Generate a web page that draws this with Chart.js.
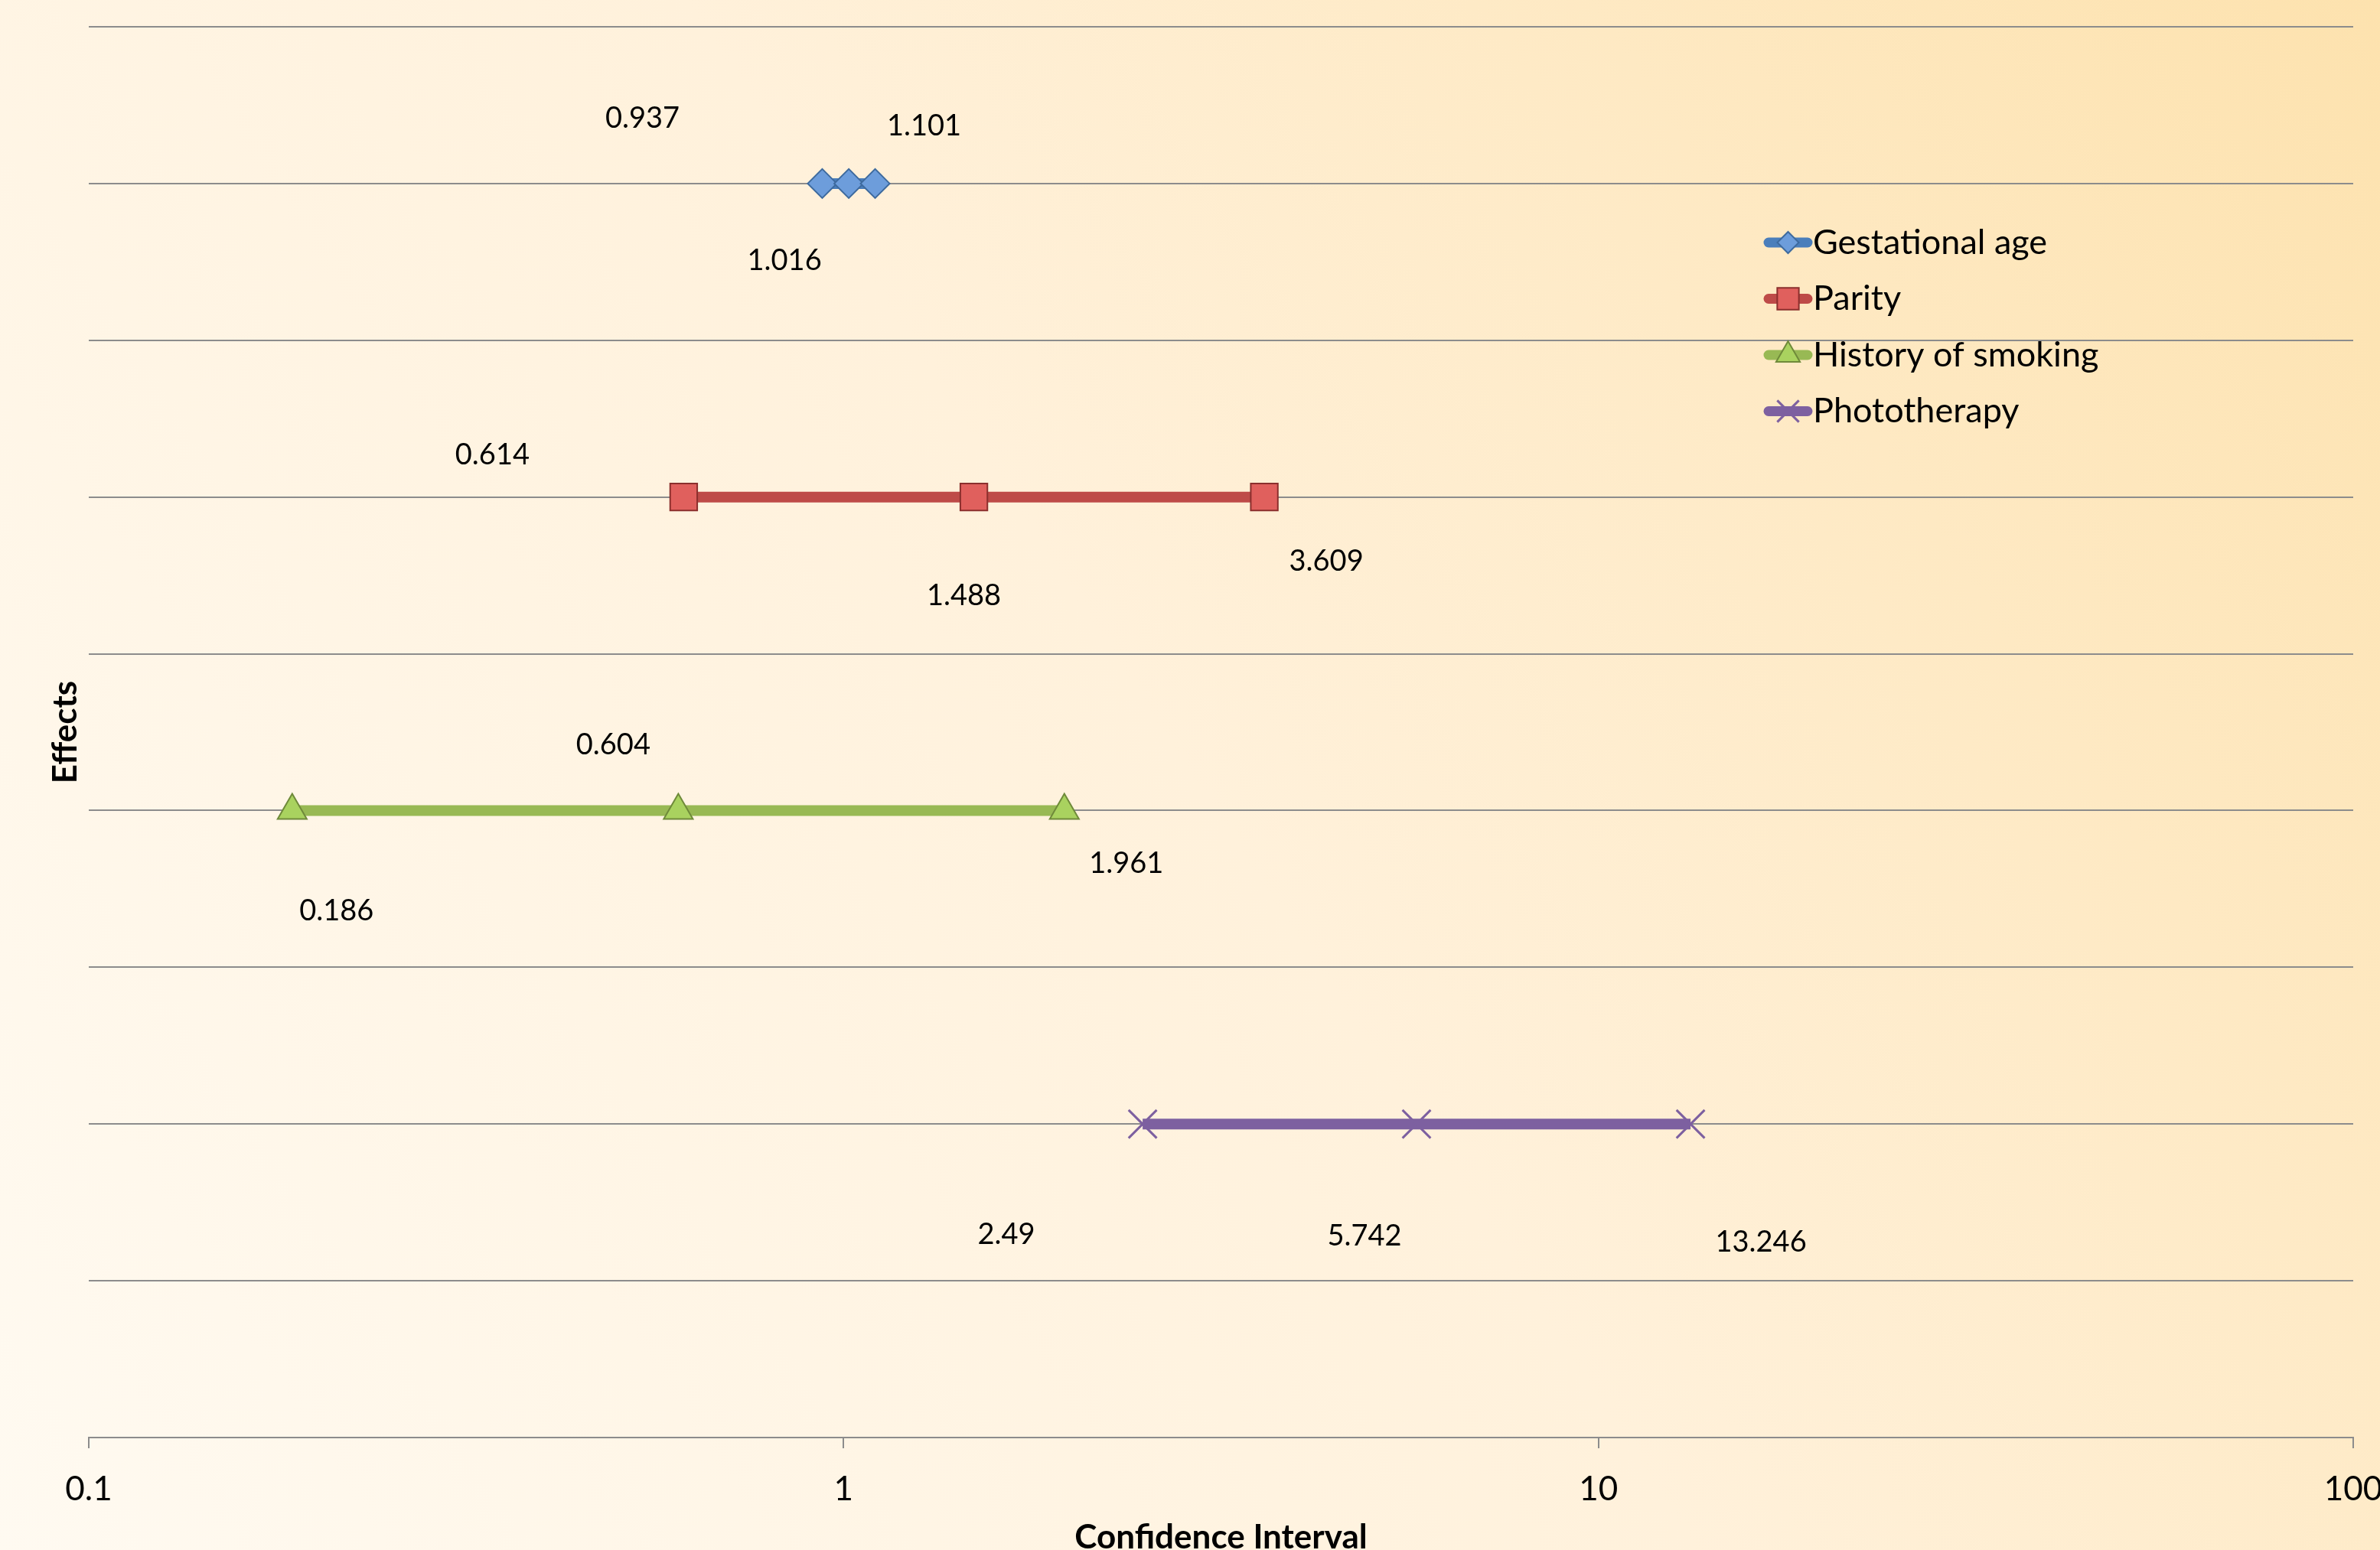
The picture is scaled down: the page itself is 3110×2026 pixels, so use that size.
<!DOCTYPE html>
<html>
<head>
    <title>Confidence Intervals</title>
    <script src="https://cdn.jsdelivr.net/npm/chart.js"></script>
    <style>
        body { margin: 0; }
        #wrap { width: 3110px; height: 2026px; }
    </style>
</head>
<body>
    <div id="wrap"><canvas id="ciChart"></canvas></div>

    <script>
        // data
        const seriesNames = ['Gestational age', 'Parity', 'History of smoking', 'Phototherapy'];
        const rowPositions = [8, 6, 4, 2];
        const lowerCI = [0.937, 0.614, 0.186, 2.49];
        const estimates = [1.016, 1.488, 0.604, 5.742];
        const upperCI = [1.101, 3.609, 1.961, 13.246];
        const xTickValues = [0.1, 1, 10, 100];

        // styling
        const lineColors = ['#4a7ebb', '#be4b48', '#98b954', '#7d60a0'];
        const pointFills = ['#6d9ddb', '#e0605d', '#a9d25f', '#7d60a0'];
        const pointBorders = ['#3d6a9e', '#8b2f2d', '#6f8a3a', '#7d60a0'];
        const pointStyles = ['rectRot', 'rect', 'triangle', 'crossRot'];
        const pointRadii = [19, 25, 22, 26];
        const legendRadii = [14, 20, 18, 20];
        // label offsets in px from each marker (lower, estimate, upper)
        const labelOffsets = [
            [[-235, -85], [-84, 101], [64, -75]],
            [[-250, -55], [-13, 129], [81, 84]],
            [[58, 131], [-85, -86], [81, 69]],
            [[-178, 145], [-68, 147], [92, 155]]
        ];
        const gridColor = '#8c8c8c';
        const fontFamily = 'Lato, "Open Sans", sans-serif';

        const datasets = seriesNames.map((name, i) => ({
            label: name,
            data: [
                { x: lowerCI[i], y: rowPositions[i] },
                { x: estimates[i], y: rowPositions[i] },
                { x: upperCI[i], y: rowPositions[i] }
            ],
            showLine: true,
            borderColor: lineColors[i],
            borderWidth: 14,
            pointStyle: pointStyles[i],
            pointRadius: pointRadii[i],
            pointBackgroundColor: pointFills[i],
            pointBorderColor: pointBorders[i],
            pointBorderWidth: i === 3 ? 3 : 2
        }));

        const backgroundPlugin = {
            id: 'bg',
            beforeDraw(chart) {
                const ctx = chart.ctx;
                const w = chart.width, h = chart.height;
                const g = ctx.createLinearGradient(0, h, w, 0);
                g.addColorStop(0, '#fffaf1');
                g.addColorStop(0.5, '#fff1db');
                g.addColorStop(1, '#fde2ae');
                ctx.save();
                ctx.fillStyle = g;
                ctx.fillRect(0, 0, w, h);
                ctx.restore();
            }
        };

        const valueLabels = {
            id: 'valueLabels',
            afterDatasetsDraw(chart) {
                const ctx = chart.ctx;
                ctx.save();
                ctx.font = '38px ' + fontFamily;
                ctx.fillStyle = '#000';
                ctx.textAlign = 'center';
                ctx.textBaseline = 'middle';
                chart.data.datasets.forEach((ds, i) => {
                    chart.getDatasetMeta(i).data.forEach((pt, j) => {
                        const off = labelOffsets[i][j];
                        ctx.fillText(String(ds.data[j].x), pt.x + off[0], pt.y + off[1]);
                    });
                });
                ctx.restore();
            }
        };

        const sideLegend = {
            id: 'sideLegend',
            afterDraw(chart) {
                const ctx = chart.ctx;
                const x0 = 2305, x1 = 2368, rowY = 317, rowGap = 73.5;
                ctx.save();
                ctx.font = '45px ' + fontFamily;
                ctx.textBaseline = 'middle';
                seriesNames.forEach((name, i) => {
                    const y = rowY + i * rowGap;
                    ctx.strokeStyle = lineColors[i];
                    ctx.lineWidth = 13;
                    ctx.lineCap = 'round';
                    ctx.beginPath();
                    ctx.moveTo(x0 + 6, y);
                    ctx.lineTo(x1 - 6, y);
                    ctx.stroke();
                    ctx.lineCap = 'butt';
                    ctx.fillStyle = pointFills[i];
                    ctx.strokeStyle = pointBorders[i];
                    ctx.lineWidth = i === 3 ? 3 : 2;
                    Chart.helpers.drawPoint(ctx, {
                        pointStyle: pointStyles[i],
                        radius: legendRadii[i],
                        rotation: 0,
                        borderWidth: ctx.lineWidth
                    }, (x0 + x1) / 2, y);
                    ctx.fillStyle = '#000';
                    ctx.fillText(name, x1 + 1, y);
                });
                ctx.restore();
            }
        };

        const ctx = document.getElementById('ciChart').getContext('2d');
        const ciChart = new Chart(ctx, {
            type: 'scatter',
            data: { datasets: datasets },
            options: {
                responsive: true,
                maintainAspectRatio: false,
                animation: false,
                events: [],
                layout: { padding: { left: 59, right: 0, top: 35, bottom: 0 } },
                plugins: {
                    legend: { display: false },
                    tooltip: { enabled: false }
                },
                scales: {
                    x: {
                        type: 'logarithmic',
                        min: 0.1,
                        max: 100,
                        afterBuildTicks: scale => {
                            scale.ticks = xTickValues.map(v => ({ value: v }));
                        },
                        afterFit: scale => {
                            scale.height = 147;
                            scale.paddingRight = 35;
                        },
                        ticks: {
                            autoSkip: false,
                            maxRotation: 0,
                            padding: 27,
                            color: '#000',
                            font: { family: fontFamily, size: 44 },
                            callback: v => String(v)
                        },
                        grid: {
                            drawOnChartArea: false,
                            drawTicks: true,
                            tickLength: 14,
                            color: gridColor,
                            lineWidth: 2
                        },
                        border: { display: true, color: gridColor, width: 2 },
                        title: {
                            display: true,
                            text: 'Confidence Interval',
                            color: '#000',
                            font: { family: fontFamily, size: 44, weight: 'bold', lineHeight: 1.0 },
                            padding: { top: 0, bottom: -6 }
                        }
                    },
                    y: {
                        type: 'linear',
                        min: 0,
                        max: 9,
                        afterFit: scale => { scale.width = 57; },
                        ticks: { display: false, stepSize: 1 },
                        grid: { color: gridColor, lineWidth: 2, drawTicks: false },
                        border: { display: false },
                        title: {
                            display: true,
                            text: 'Effects',
                            color: '#000',
                            font: { family: fontFamily, size: 44, weight: 'bold' },
                            padding: { top: 0, bottom: 0 }
                        }
                    }
                }
            },
            plugins: [backgroundPlugin, valueLabels, sideLegend]
        });
    </script>
</body>
</html>
